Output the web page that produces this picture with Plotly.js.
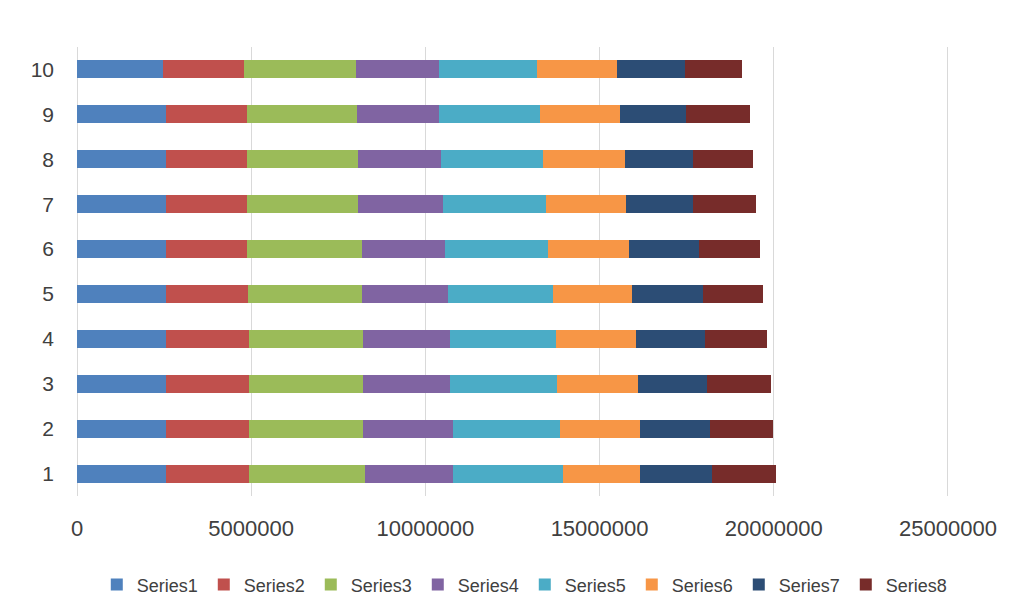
<!DOCTYPE html>
<html>
<head>
<meta charset="utf-8">
<script src="https://cdn.plot.ly/plotly-3.0.1.min.js"></script>
<style>html,body{margin:0;padding:0;background:#fff;}#chart{width:1019px;height:603px;}</style>
</head>
<body>
<div id="chart"></div>
<script>
const categories = ["1","2","3","4","5","6","7","8","9","10"];
const seriesNames = ["Series1","Series2","Series3","Series4","Series5","Series6","Series7","Series8"];
const series1 = [2550000,2550000,2550000,2550000,2550000,2550000,2550000,2550000,2550000,2470000];
const series2 = [2390000,2390000,2390000,2390000,2370000,2320000,2320000,2320000,2320000,2320000];
const series3 = [3320000,3280000,3280000,3280000,3250000,3300000,3200000,3200000,3160000,3210000];
const series4 = [2520000,2560000,2480000,2480000,2470000,2390000,2440000,2390000,2360000,2380000];
const series5 = [3160000,3080000,3080000,3040000,3030000,2960000,2950000,2920000,2900000,2810000];
const series6 = [2230000,2310000,2330000,2300000,2250000,2330000,2310000,2340000,2310000,2320000];
const series7 = [2070000,1990000,1980000,1980000,2050000,2010000,1910000,1950000,1870000,1950000];
const series8 = [1820000,1820000,1840000,1790000,1710000,1740000,1800000,1740000,1840000,1640000];
const colors = ["#4F81BD","#C0504D","#9BBB59","#8064A2","#4BACC6","#F79646","#2C4D75","#772C2A"];
const allSeries = [series1,series2,series3,series4,series5,series6,series7,series8];

const traces = allSeries.map((vals, i) => ({
  type: "bar",
  orientation: "h",
  name: seriesNames[i],
  y: categories,
  x: vals,
  marker: {color: colors[i], line: {width: 0}},
  hoverinfo: "x+name"
}));

const font = "'Liberation Sans', Arial, sans-serif";
const layout = {
  barmode: "stack",
  bargap: 0.6,
  width: 1019,
  height: 603,
  paper_bgcolor: "#ffffff",
  plot_bgcolor: "#ffffff",
  margin: {l: 77, r: 70, t: 47, b: 107},
  font: {family: font, color: "#404040", size: 22},
  showlegend: true,
  legend: {
    orientation: "h",
    x: 0.515, xanchor: "center", xref: "container",
    y: 0.03, yanchor: "middle", yref: "container",
    font: {size: 18, color: "#404040"},
    traceorder: "normal",
    itemwidth: 30,
    entrywidth: 62,
    entrywidthmode: "pixels"
  },
  xaxis: {
    range: [0, 25030000],
    dtick: 5000000,
    tick0: 0,
    tickformat: "d",
    showgrid: true,
    gridcolor: "#D9D9D9",
    gridwidth: 1,
    zeroline: true,
    zerolinecolor: "#D9D9D9",
    zerolinewidth: 1,
    showline: false,
    ticks: "",
    ticklabelstandoff: 17,
    tickfont: {size: 22, color: "#404040"},
    automargin: false,
    fixedrange: true
  },
  yaxis: {
    type: "category",
    showgrid: false,
    zeroline: false,
    showline: false,
    ticks: "",
    ticklabelstandoff: 22,
    tickfont: {size: 21, color: "#404040"},
    automargin: false,
    fixedrange: true
  }
};

Plotly.newPlot("chart", traces, layout, {displayModeBar: false, staticPlot: true});
</script>
</body>
</html>
